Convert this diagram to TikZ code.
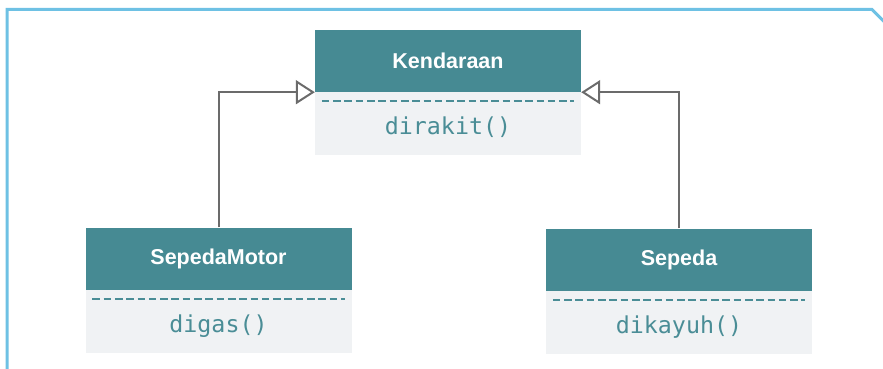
\documentclass[tikz,border=0pt]{standalone}
\usepackage{fontspec}
\setmainfont{Liberation Sans}
\newfontfamily\codefont{DejaVu Sans Mono}
\usepackage{tikz}
\usetikzlibrary{arrows.meta, positioning}

\definecolor{headteal}{HTML}{468A93}
\definecolor{bodygrey}{HTML}{F0F2F4}
\definecolor{codeteal}{HTML}{4A8D96}
\definecolor{arrowgrey}{HTML}{6B6B6B}
\definecolor{frameblue}{HTML}{6EC1E4}

\begin{document}
\begin{tikzpicture}[
        x=1pt, y=-1pt,
        headbox/.style={fill=headteal, text=white, minimum width=266pt, minimum height=62pt, inner sep=0pt, font=\bfseries\fontsize{21.5}{25}\selectfont},
        bodybox/.style={fill=bodygrey, text=codeteal, minimum width=266pt, minimum height=63pt, inner sep=0pt, text height=25pt, text depth=3pt, font=\codefont\fontsize{23.3}{27}\selectfont},
        sepline/.style={draw=codeteal, line width=2.4pt, dash pattern=on 7.6pt off 3.7pt},
        inherit/.style={draw=arrowgrey, line width=2pt, -{Triangle[open, length=19pt, width=24pt]}},
        framestyle/.style={draw=frameblue, line width=3pt}
      ]
        \useasboundingbox (0,0) rectangle (883,369);
        \draw[framestyle] (7,375) -- (7,9.5) -- (872,9.5) -- (887,24.5);

        \node[headbox] (kendhead) at (448,61) {Kendaraan};
        \node[bodybox, below=0pt of kendhead] (kendbody) {dirakit()};

        \node[headbox] (motorhead) at (218.5,258.5) {SepedaMotor};
        \node[bodybox, below=0pt of motorhead] (motorbody) {digas()};

        \node[headbox] (sepedahead) at (679,259.5) {Sepeda};
        \node[bodybox, below=0pt of sepedahead] (sepedabody) {dikayuh()};

        % separator under each class name
        \draw[sepline] ([xshift=7pt, yshift=-9pt]kendbody.north west) -- ([xshift=-7pt, yshift=-9pt]kendbody.north east);
        \draw[sepline] ([xshift=7pt, yshift=-9pt]motorbody.north west) -- ([xshift=-7pt, yshift=-9pt]motorbody.north east);
        \draw[sepline] ([xshift=7pt, yshift=-9pt]sepedabody.north west) -- ([xshift=-7pt, yshift=-9pt]sepedabody.north east);

        \draw[inherit] (motorhead.north) |- (kendhead.south west);
        \draw[inherit] (sepedahead.north) |- (kendhead.south east);
      \end{tikzpicture}
\end{document}
